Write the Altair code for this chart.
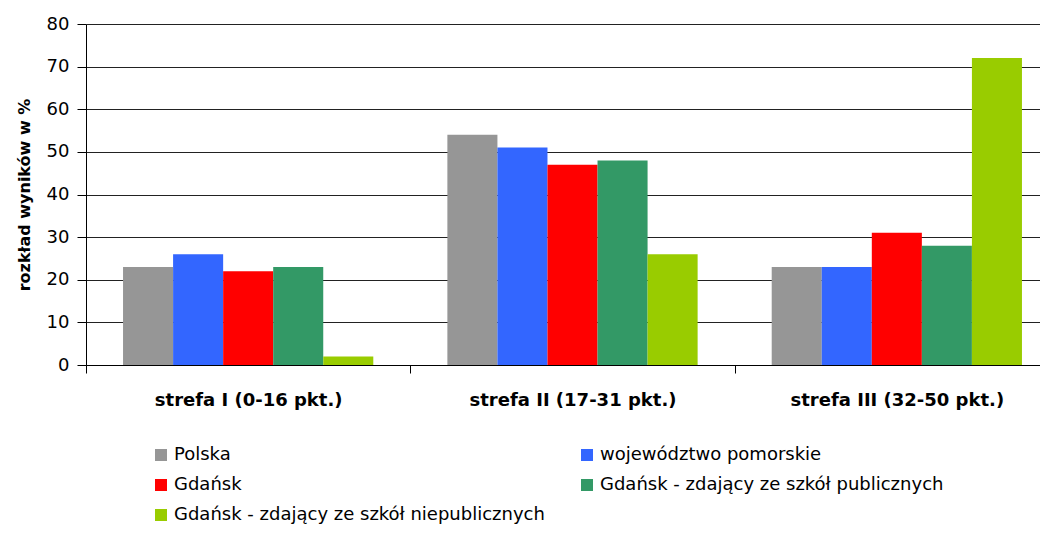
import altair as alt
import pandas as pd

categories = ["strefa I (0-16 pkt.)", "strefa II (17-31 pkt.)", "strefa III (32-50 pkt.)"]
series = ["Polska", "województwo pomorskie", "Gdańsk",
          "Gdańsk - zdający ze szkół publicznych",
          "Gdańsk - zdający ze szkół niepublicznych"]
colors = ["#969696", "#3366FF", "#FF0000", "#339966", "#99CC00"]
values = {
    "Polska": [23, 54, 23],
    "województwo pomorskie": [26, 51, 23],
    "Gdańsk": [22, 47, 31],
    "Gdańsk - zdający ze szkół publicznych": [23, 48, 28],
    "Gdańsk - zdający ze szkół niepublicznych": [2, 26, 72],
}
# legend is laid out column by column: left column first, then right column
legend_order = [series[0], series[2], series[4], series[1], series[3]]
legend_colors = [colors[series.index(s)] for s in legend_order]

rows = []
for s in series:
    for c, v in zip(categories, values[s]):
        rows.append({"strefa": c, "seria": s, "wartosc": v})
df = pd.DataFrame(rows)

FONT = "DejaVu Sans"

chart = alt.Chart(df).mark_bar().encode(
    x=alt.X("strefa:N", sort=categories, title=None,
            scale=alt.Scale(paddingInner=0, paddingOuter=0, range=[0, 973]),
            axis=alt.Axis(labelAngle=0, labelFont=FONT, labelFontSize=18,
                          labelFontWeight="bold", labelColor="#000",
                          labelLimit=0, labelPadding=18, tickBand="extent",
                          ticks=True, tickSize=8, tickColor="#000",
                          domainColor="#000", grid=False)),
    xOffset=alt.XOffset("seria:N", sort=series,
                        scale=alt.Scale(paddingInner=0, paddingOuter=0.74)),
    y=alt.Y("wartosc:Q", title="rozkład wyników w %",
            scale=alt.Scale(domain=[0, 80], nice=False),
            axis=alt.Axis(values=list(range(0, 81, 10)), labelFont=FONT,
                          labelFontSize=18, labelColor="#000", tickSize=9,
                          tickColor="#000", domainColor="#000",
                          gridColor="#222", gridOpacity=1,
                          titleFont=FONT, titleFontSize=16, titleFontWeight="bold",
                          titleColor="#000", titlePadding=14, labelPadding=8)),
    color=alt.Color("seria:N",
                    scale=alt.Scale(domain=legend_order, range=legend_colors),
                    legend=alt.Legend(title=None, orient="none", legendX=66,
                                      legendY=422, columns=2, symbolType="square",
                                      symbolSize=144, symbolStrokeWidth=0,
                                      labelFont=FONT, labelFontSize=18,
                                      labelColor="#000", labelLimit=0,
                                      rowPadding=12, columnPadding=33,
                                      labelOffset=4, symbolOffset=0)),
).properties(
    width=954, height=341,
    padding={"left": 78, "top": 16, "right": 0, "bottom": 162},
    autosize=alt.AutoSizeParams(type="none"),
).configure_view(stroke=None).configure_axis(domainWidth=1, gridWidth=1)

chart.save("out.html", embed_options={"renderer": "svg", "actions": False})
